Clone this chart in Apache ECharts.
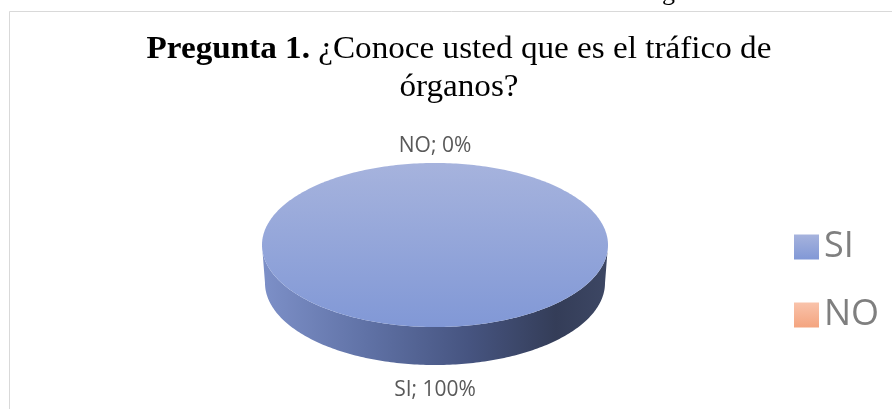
<!DOCTYPE html>
<html>
<head>
<meta charset="utf-8">
<script src="https://cdn.jsdelivr.net/npm/echarts@6/dist/echarts.min.js"></script>
<style>
  html, body { margin: 0; padding: 0; background: #fff; }
  #chart { width: 892px; height: 409px; }
</style>
</head>
<body>
<div id="chart"></div>
<script>
  // datos del gráfico
  const categories = ['SI', 'NO']
  const values = [100, 0]
  const titleBold = 'Pregunta 1.'
  const titleLine1 = '¿Conoce usted que es el tráfico de'
  const titleLine2 = 'órganos?'

  // geometría del pastel 3D
  const CX = 435, CY = 245, RX = 173, RY = 82, DEPTH = 38

  const topColors = [
    new echarts.graphic.LinearGradient(0, CY - RY, 0, CY + RY, [
      { offset: 0, color: '#a6b3dd' }, { offset: 1, color: '#8198d6' }
    ], true),
    new echarts.graphic.LinearGradient(0, CY - RY, 0, CY + RY, [
      { offset: 0, color: '#f9c3ab' }, { offset: 1, color: '#f4a47f' }
    ], true)
  ]
  const sideColors = [
    new echarts.graphic.LinearGradient(CX - RX, 0, CX + RX, 0, [
      { offset: 0, color: '#7d90c8' }, { offset: 0.3, color: '#6072a6' },
      { offset: 0.6, color: '#465480' }, { offset: 0.85, color: '#343d58' },
      { offset: 1, color: '#3d4764' }
    ], true),
    new echarts.graphic.LinearGradient(CX - RX, 0, CX + RX, 0, [
      { offset: 0, color: '#d99072' }, { offset: 1, color: '#8a5a46' }
    ], true)
  ]
  const legendColors = [
    new echarts.graphic.LinearGradient(0, 0, 0, 1, [
      { offset: 0, color: '#a6b3dd' }, { offset: 1, color: '#8198d6' }
    ]),
    new echarts.graphic.LinearGradient(0, 0, 0, 1, [
      { offset: 0, color: '#f9c3ab' }, { offset: 1, color: '#f4a47f' }
    ])
  ]

  function sliceAngles(idx){
    const total = values.reduce((a, b) => a + b, 0)
    let start = 0
    for(let i = 0; i < idx; i++) start += values[i] / total * 360
    return [start, start + values[idx] / total * 360]
  }
  function pt(deg, rx, ry, dy){
    const r = deg * Math.PI / 180
    return [CX + rx * Math.sin(r), CY - ry * Math.cos(r) + (dy || 0)]
  }
  function arc(a, b, rx, ry, dy){
    const pts = []
    const n = Math.max(2, Math.ceil(Math.abs(b - a)))
    for(let i = 0; i <= n; i++) pts.push(pt(a + (b - a) * i / n, rx, ry, dy))
    return pts
  }

  function renderSlice(params, api){
    const idx = params.seriesIndex
    const [a0, a1] = sliceAngles(idx)
    const children = []
    if(a1 > a0){
      // cara lateral visible (mitad frontal)
      const s = Math.max(a0, 90), e = Math.min(a1, 270)
      if(e > s){
        const pts = arc(s, e, RX, RY, 0).concat(arc(e, s, RX - 3, RY, DEPTH))
        children.push({ type: 'polygon', shape: { points: pts }, style: { fill: sideColors[idx] } })
      }
      // cara superior
      let top = arc(a0, a1, RX, RY, 0)
      if(a1 - a0 < 360) top = [[CX, CY]].concat(top)
      children.push({ type: 'polygon', shape: { points: top }, style: { fill: topColors[idx] } })
    }
    // etiqueta
    const mid = (a0 + a1) / 2
    const r = mid * Math.PI / 180
    const front = Math.cos(r) < 0
    const p = pt(mid, RX, RY, front ? DEPTH : 0)
    const gap = front ? 25 : 17
    children.push({
      type: 'text',
      x: p[0] + gap * Math.sin(r),
      y: p[1] - gap * Math.cos(r),
      style: {
        text: categories[idx] + '; ' + values[idx] + '%',
        fontFamily: 'Open Sans', fontSize: 21, fill: '#595959',
        align: 'center', verticalAlign: 'middle'
      }
    })
    return { type: 'group', children }
  }

  const chart = echarts.init(document.getElementById('chart'), null, { renderer: 'canvas' })
  const option = {
    backgroundColor: '#fff',
    animation: false,
    legend: {
      orient: 'vertical',
      left: 789,
      top: 222,
      icon: 'rect',
      itemWidth: 25,
      itemHeight: 25,
      itemGap: 28,
      data: categories,
      textStyle: { fontFamily: 'Open Sans', fontSize: 36, color: '#7f7f7f', lineHeight: 40 }
    },
    graphic: [
      { type: 'rect', shape: { x: 9.5, y: 11.5, width: 900, height: 420 }, style: { fill: 'none', stroke: '#d9d9d9', lineWidth: 1 }, silent: true },
      { type: 'text', x: 662, y: 6, style: { text: 'g', fontFamily: 'Liberation Serif', fontSize: 26, fill: '#000', verticalAlign: 'bottom' }, silent: true },
      // título
      {
        type: 'text', x: 459, y: 31, scaleX: 1.07, silent: true,
        style: {
          text: '{b|' + titleBold + '}{r| ' + titleLine1 + '}\n{r|' + titleLine2 + '}',
          align: 'center', verticalAlign: 'top',
          fontFamily: 'Liberation Serif', fontSize: 31, fill: '#000', lineHeight: 38,
          rich: {
            b: { fontFamily: 'Liberation Serif', fontSize: 31, fontWeight: 'bold', fill: '#000', lineHeight: 38 },
            r: { fontFamily: 'Liberation Serif', fontSize: 31, fontWeight: 'normal', fill: '#000', lineHeight: 38 }
          }
        }
      }
    ],
    series: categories.map((name, i) => ({
      type: 'custom',
      name: name,
      coordinateSystem: 'none',
      itemStyle: { color: legendColors[i] },
      renderItem: renderSlice,
      data: [values[i]]
    }))
  }
  chart.setOption(option)
</script>
</body>
</html>
